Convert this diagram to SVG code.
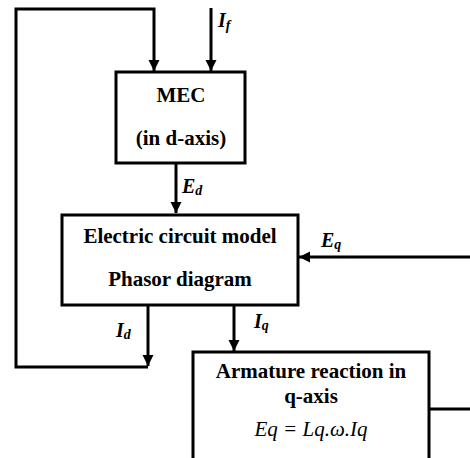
<svg xmlns="http://www.w3.org/2000/svg" width="470" height="458" viewBox="0 0 470 458" font-family="'Liberation Serif', 'Times New Roman', Times, serif">
<style>
.box{fill:#fff;stroke:#000;stroke-width:3}
.ln{fill:none;stroke:#000;stroke-width:3}
</style>
<defs>
<marker id="ah" markerUnits="userSpaceOnUse" markerWidth="12" markerHeight="12" viewBox="0 0 12 12" refX="11" refY="6" orient="auto">
<path d="M0,0.5 L11,6 L0,11.5 Z" fill="#000"/>
</marker>
</defs>
<g id="connectors">
<polyline class="ln" points="148,305 148,366" marker-end="url(#ah)"/>
<polyline class="ln" points="148,367 16,367 16,9 154,9 154,71" marker-end="url(#ah)"/>
<polyline class="ln" points="211,8 211,71" marker-end="url(#ah)"/>
<polyline class="ln" points="176,163 176,213" marker-end="url(#ah)"/>
<polyline class="ln" points="470,257 299,257" marker-end="url(#ah)"/>
<polyline class="ln" points="234,305 234,351" marker-end="url(#ah)"/>
<polyline class="ln" points="429,409 470,409"/>
</g>
<g id="labels" font-weight="bold" font-style="italic" font-size="20">
<text x="218" y="27">I<tspan font-size="14" dy="3">f</tspan></text>
<text x="182" y="193">E<tspan font-size="14" dy="2">d</tspan></text>
<text x="321" y="247">E<tspan font-size="14" dy="2">q</tspan></text>
<text x="116" y="337">I<tspan font-size="14" dy="2">d</tspan></text>
<text x="254" y="328">I<tspan font-size="14" dy="2">q</tspan></text>
</g>
<g id="mec" font-weight="bold" font-size="21" text-anchor="middle">
<rect class="box" x="116" y="72" width="129" height="91"/>
<text x="181" y="102">MEC</text>
<text x="181" y="145">(in d-axis)</text>
</g>
<g id="circuit" font-weight="bold" font-size="21" text-anchor="middle">
<rect class="box" x="62" y="215" width="236" height="90"/>
<text x="180" y="243">Electric circuit model</text>
<text x="180" y="286">Phasor diagram</text>
</g>
<g id="armature" font-size="21" text-anchor="middle">
<rect class="box" x="193" y="352" width="236" height="120"/>
<text x="311" y="378" font-weight="bold">Armature reaction in</text>
<text x="311" y="403" font-weight="bold">q-axis</text>
<text x="311" y="436" font-style="italic">Eq = Lq.ω.Iq</text>
</g>
</svg>
